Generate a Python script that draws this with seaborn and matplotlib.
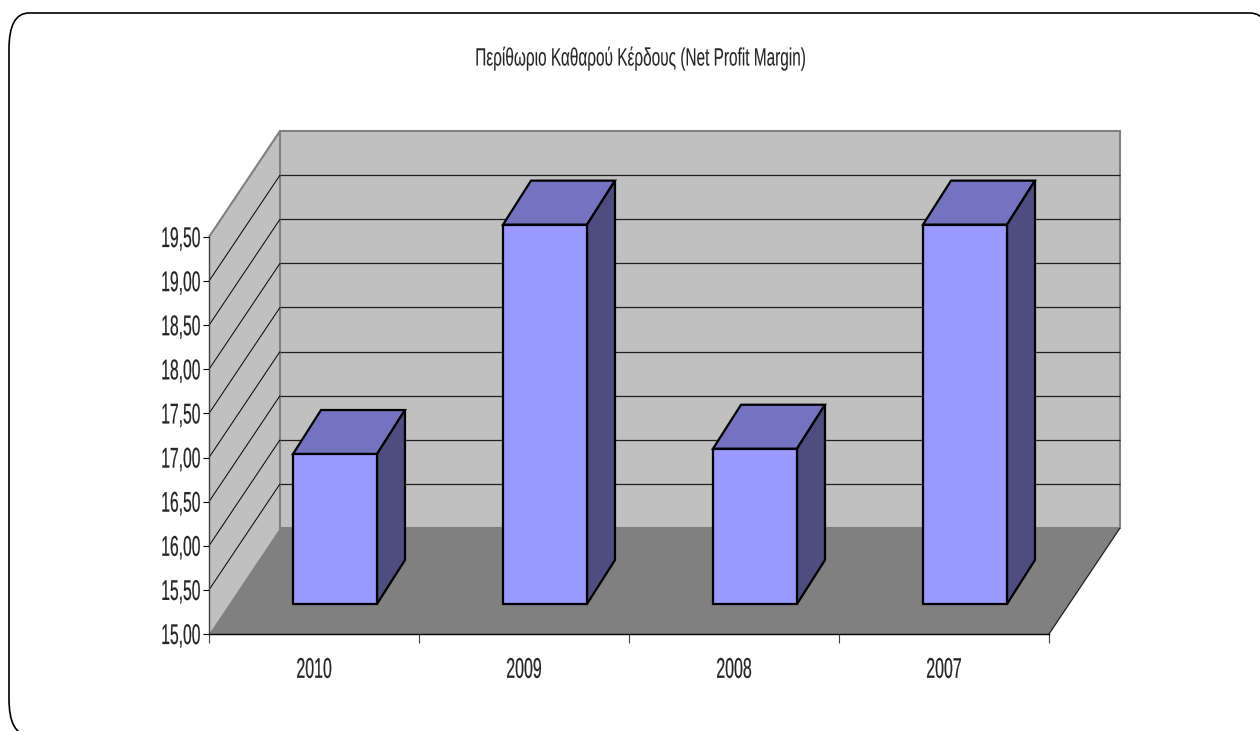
# Dependencies
import matplotlib
matplotlib.use('Agg')
import matplotlib.pyplot as plt
import matplotlib.patheffects as pe
from matplotlib.patches import Polygon, FancyBboxPatch
from matplotlib.transforms import Affine2D, IdentityTransform
import numpy as np
import seaborn as sns

# Data
years = ["2010", "2009", "2008", "2007"]
margins = [16.70, 19.30, 16.76, 19.30]
y_ticks = [15.0, 15.5, 16.0, 16.5, 17.0, 17.5, 18.0, 18.5, 19.0, 19.5]
y_tick_labels = ["15,00", "15,50", "16,00", "16,50", "17,00", "17,50", "18,00", "18,50", "19,00", "19,50"]
title = "Περίθωριο Καθαρού Κέρδους (Net Profit Margin)"

# Consts
W, H = 1260, 731
wall_depth = np.array([71, 106])   # px
bar_shift = np.array([21, 30])     # px, bars sit inside the floor
bar_depth = np.array([28, 44])     # px

c_wall = "#C0C0C0"
c_floor = "#808080"
c_front = "#9999FF"
c_top = "#7373BF"
c_side = "#4D4D80"


# the original text is squeezed sideways, matplotlib has no font stretch
class Squeeze(pe.AbstractPathEffect):
    def __init__(self, sx, anchor=0.5, stroke=0.12):
        super().__init__()
        self.sx = sx
        self.anchor = anchor
        self.stroke = stroke

    def draw_path(self, renderer, gc, tpath, affine, rgbFace=None):
        ext = tpath.get_extents()
        x0 = ext.x0 + self.anchor * ext.width
        squeeze = Affine2D().translate(-x0, 0).scale(self.sx, 1).translate(x0, 0)
        gc0 = renderer.new_gc()
        gc0.copy_properties(gc)
        gc0.set_linewidth(self.stroke)  # a bit heavier, like the original
        gc0.set_foreground("black")
        renderer.draw_path(gc0, tpath, squeeze + affine, rgbFace)
        gc0.restore()


# Fig
sns.set_style("white")
plt.rcParams['font.family'] = ['Liberation Sans', 'DejaVu Sans']

fig = plt.figure(figsize=(W / 100, H / 100), dpi=100)
ax = fig.add_axes([209 / W, (H - 634) / H, 840 / W, 397 / H])
ax.patch.set_visible(False)

sns.barplot(x=years, y=margins, width=0.4, color=c_front, saturation=1,
            edgecolor="black", linewidth=1.6, ax=ax)

ax.set_xlim(-0.5, 3.5)
ax.set_ylim(y_ticks[0], y_ticks[-1])
ax.set_yticks(y_ticks)
ax.set_yticklabels(y_tick_labels)


def to_px(x, y):
    return ax.transData.transform((x, y))


def add_poly(points, **kwargs):
    ax.add_patch(Polygon(np.array(points), closed=True, transform=IdentityTransform(),
                         clip_on=False, **kwargs))


def add_line(p, q, **kwargs):
    ax.plot([p[0], q[0]], [p[1], q[1]], transform=IdentityTransform(),
            clip_on=False, solid_capstyle="butt", scalex=False, scaley=False, **kwargs)


# walls and floor
x_lo, x_hi = ax.get_xlim()
y_lo, y_hi = ax.get_ylim()
bl, br, tl = to_px(x_lo, y_lo), to_px(x_hi, y_lo), to_px(x_lo, y_hi)
tr = to_px(x_hi, y_hi)
add_poly([tl, tl + wall_depth, bl + wall_depth, bl], fc=c_wall, ec="none", zorder=0.5)
add_poly([tl + wall_depth, tr + wall_depth, br + wall_depth, bl + wall_depth],
         fc=c_wall, ec=c_floor, lw=1.5, zorder=0.6)
add_poly([bl, br, br + wall_depth, bl + wall_depth], fc=c_floor, ec="none", zorder=0.7)
add_line(tl, tl + wall_depth, color=c_floor, lw=1.5, zorder=0.8)
add_line(br, br + wall_depth, color="#202020", lw=0.9, zorder=0.8)

# grid lines run along the side wall and then the back wall
for tick in y_ticks[1:-1]:
    p = to_px(x_lo, tick)
    q = to_px(x_hi, tick)
    add_line(p, p + wall_depth, color="black", lw=0.7, zorder=0.8)
    add_line(p + wall_depth, q + wall_depth, color="#202020", lw=0.9, zorder=0.8)

# bars: shift the fronts, then build top and side from each front
shift = ax.transData + Affine2D().translate(*bar_shift)
for bar in ax.patches[:]:
    if isinstance(bar, Polygon):
        continue
    value = bar.get_height()
    bar.set_y(y_lo)
    bar.set_height(value - y_lo)
    bar.set_transform(shift)
    bar.set_clip_on(False)
    bar.set_zorder(3)

    x0, x1 = bar.get_x(), bar.get_x() + bar.get_width()
    lo_r = to_px(x1, y_lo) + bar_shift
    hi_l = to_px(x0, value) + bar_shift
    hi_r = to_px(x1, value) + bar_shift
    add_poly([hi_l, hi_r, hi_r + bar_depth, hi_l + bar_depth], fc=c_top, ec="black", lw=1.6, zorder=2.5)
    add_poly([lo_r, hi_r, hi_r + bar_depth, lo_r + bar_depth], fc=c_side, ec="black", lw=1.6, zorder=2.5)

# axes
sns.despine(ax=ax, top=True, right=True)
ax.spines['left'].set_color("#404040")
ax.spines['left'].set_linewidth(1.0)
ax.spines['bottom'].set_color("black")
ax.spines['bottom'].set_linewidth(1.0)
ax.spines['left'].set_zorder(1)
ax.spines['bottom'].set_zorder(1)

ax.set_xticks(np.arange(len(years) + 1) - 0.5, minor=False)
ax.set_xticklabels([])
ax.tick_params(axis="x", which="major", bottom=True, length=6.5, width=0.8, color="#404040")
ax.tick_params(axis="y", left=True, length=4.3, width=0.8, color="black", pad=1.5, labelsize=20.5)
for t in ax.get_yticklabels():
    t.set_path_effects([Squeeze(0.55, anchor=1.0)])

for i, year in enumerate(years):
    ax.annotate(year, xy=(i, 0), xycoords=ax.get_xaxis_transform(), xytext=(0, -26.5),
                textcoords="offset points", ha="center", va="center", fontsize=20.5,
                path_effects=[Squeeze(0.56)])

# title
fig.text(640 / W, (H - 58) / H, title, ha="center", va="center", fontsize=18,
         path_effects=[Squeeze(0.615, stroke=0.05)])

# frame, runs off the right and bottom of the picture
# white fill under the axes: agg clips unfilled curves badly at the canvas edge
fig.add_artist(FancyBboxPatch((9, H - 735), 1261, 722, boxstyle="round,pad=0,rounding_size=20",
                              mutation_aspect=1.8, transform=IdentityTransform(),
                              fc="white", ec="black", lw=1.2, zorder=-1))

fig.savefig("out.png", dpi=100)
plt.close("all")
